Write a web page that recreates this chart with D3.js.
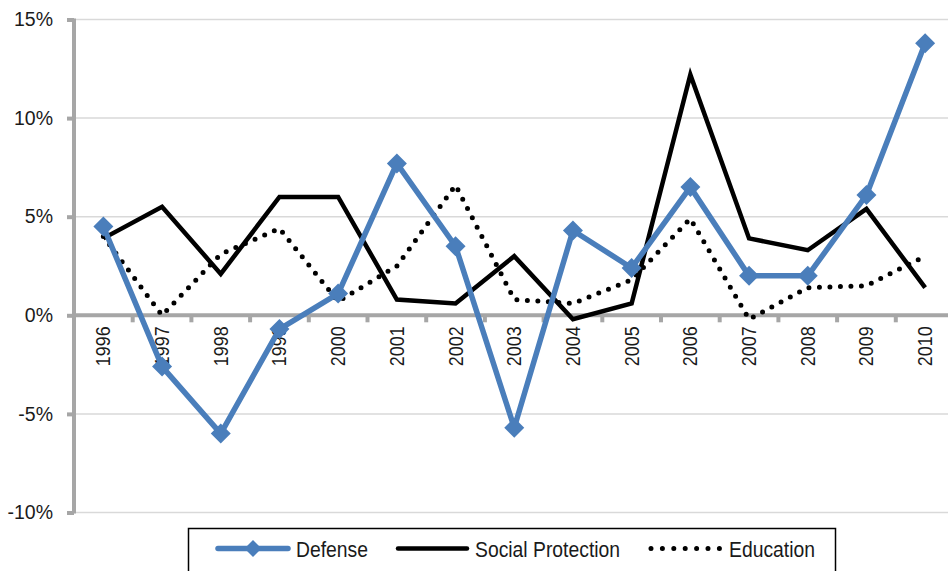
<!DOCTYPE html>
<html>
<head>
<meta charset="utf-8">
<script src="https://cdn.jsdelivr.net/npm/d3@7"></script>
<style>
  html, body { margin: 0; padding: 0; background: #fff; }
  svg { display: block; }
  text { font-family: "Liberation Sans", Arial, sans-serif; fill: #1a1a1a; }
</style>
</head>
<body>
<svg id="chart" width="948" height="571"></svg>
<script>
// Annual growth rates by spending category, 1996–2010 (percent)
const years = ["1996","1997","1998","1999","2000","2001","2002","2003","2004","2005","2006","2007","2008","2009","2010"];
const defense = [4.5, -2.6, -6.0, -0.7, 1.1, 7.7, 3.5, -5.7, 4.3, 2.4, 6.5, 2.0, 2.0, 6.1, 13.8];
const socialProtection = [3.9, 5.5, 2.1, 6.0, 6.0, 0.8, 0.6, 3.0, -0.2, 0.6, 12.2, 3.9, 3.3, 5.4, 1.4];
const education = [4.0, 0.0, 3.1, 4.4, 0.7, 2.5, 6.6, 0.8, 0.6, 1.8, 4.9, -0.2, 1.4, 1.5, 3.0];
const yTicks = [15, 10, 5, 0, -5, -10];
const seriesNames = ["Defense", "Social Protection", "Education"];

const svg = d3.select("#chart");
const left = 74, bandW = 58.7;
const x = d3.scaleBand().domain(years).range([left, left + bandW * years.length]);
const y = d3.scaleLinear().domain([-10, 15]).range([512.5, 19.5]);

const axisGray = "#a6a6a6";
const gridGray = "#d9d9d9";

// horizontal gridlines
svg.append("g").selectAll("line").data(yTicks.filter(d => d !== 0)).join("line")
  .attr("x1", left).attr("x2", 948)
  .attr("y1", d => y(d)).attr("y2", d => y(d))
  .attr("stroke", gridGray).attr("stroke-width", 1.5);

// y axis
const yAxis = svg.append("g").attr("transform", `translate(${left},0)`)
  .call(d3.axisLeft(y).tickValues(yTicks).tickFormat(d => d + "%").tickSize(7).tickPadding(14));
yAxis.select(".domain").attr("stroke", axisGray).attr("stroke-width", 4)
  .attr("d", `M0,${y(15) - 1}V${y(-10) + 1}`);
yAxis.selectAll(".tick line").attr("stroke", axisGray).attr("stroke-width", 4);
yAxis.selectAll(".tick text").attr("font-size", 19.5).attr("fill", "#1a1a1a")
  .attr("font-family", "'Liberation Sans', Arial, sans-serif");

// zero line with category boundary ticks
const zeroY = y(0);
svg.append("line").attr("x1", left).attr("x2", 948).attr("y1", zeroY).attr("y2", zeroY)
  .attr("stroke", axisGray).attr("stroke-width", 4);
svg.append("g").selectAll("line").data(years.slice(1)).join("line")
  .attr("x1", d => x(d)).attr("x2", d => x(d))
  .attr("y1", zeroY).attr("y2", zeroY + 7)
  .attr("stroke", axisGray).attr("stroke-width", 4);

// category labels, rotated and slightly condensed
svg.append("g").selectAll("text").data(years).join("text")
  .attr("transform", d => `translate(${x(d) + x.bandwidth() / 2},${zeroY + 11}) rotate(-90) scale(0.92,1)`)
  .attr("text-anchor", "end").attr("dy", "0.36em")
  .attr("font-size", 19.5)
  .text(d => d);

const cx = d => x(d) + x.bandwidth() / 2;
const line = vals => d3.line().x((v, i) => cx(years[i])).y(v => y(v))(vals);

// Education (dotted)
svg.append("path").attr("d", line(education)).attr("fill", "none")
  .attr("stroke", "#000").attr("stroke-width", 5).attr("stroke-linecap", "round")
  .attr("stroke-dasharray", "0 10.5");

// Social Protection (solid black)
svg.append("path").attr("d", line(socialProtection)).attr("fill", "none")
  .attr("stroke", "#000").attr("stroke-width", 4.5).attr("stroke-linejoin", "miter");

// Defense (blue with diamond markers)
const blue = "#4a7ebb";
svg.append("path").attr("d", line(defense)).attr("fill", "none")
  .attr("stroke", blue).attr("stroke-width", 5.5).attr("stroke-linejoin", "round");
const diamond = r => `M0,${-r}L${r},0L0,${r}L${-r},0Z`;
svg.append("g").selectAll("path").data(defense).join("path")
  .attr("transform", (v, i) => `translate(${cx(years[i])},${y(v)})`)
  .attr("d", diamond(10)).attr("fill", blue);

// legend
const lg = svg.append("g");
lg.append("rect").attr("x", 188.5).attr("y", 528.5).attr("width", 647).attr("height", 50)
  .attr("fill", "#fff").attr("stroke", "#000").attr("stroke-width", 1.5);
const ly = 548.5;
const items = [
  { name: seriesNames[0], x0: 218, x1: 288, tx: 296 },
  { name: seriesNames[1], x0: 398, x1: 467, tx: 475 },
  { name: seriesNames[2], x0: 651, x1: 720, tx: 729 }
];
items.forEach((it, k) => {
  const l = lg.append("line").attr("x1", it.x0).attr("x2", it.x1).attr("y1", ly).attr("y2", ly)
    .attr("stroke-linecap", "round");
  if (k === 0) {
    l.attr("stroke", blue).attr("stroke-width", 5.5);
    lg.append("path").attr("transform", `translate(${(it.x0 + it.x1) / 2},${ly})`)
      .attr("d", diamond(8.5)).attr("fill", blue);
  } else if (k === 1) {
    l.attr("stroke", "#000").attr("stroke-width", 4.5);
  } else {
    l.attr("stroke", "#000").attr("stroke-width", 5).attr("stroke-dasharray", "0 11.4");
  }
  lg.append("text").attr("transform", `translate(${it.tx},557) scale(0.86,1)`)
    .attr("font-size", 22.5).text(it.name);
});
</script>
</body>
</html>
